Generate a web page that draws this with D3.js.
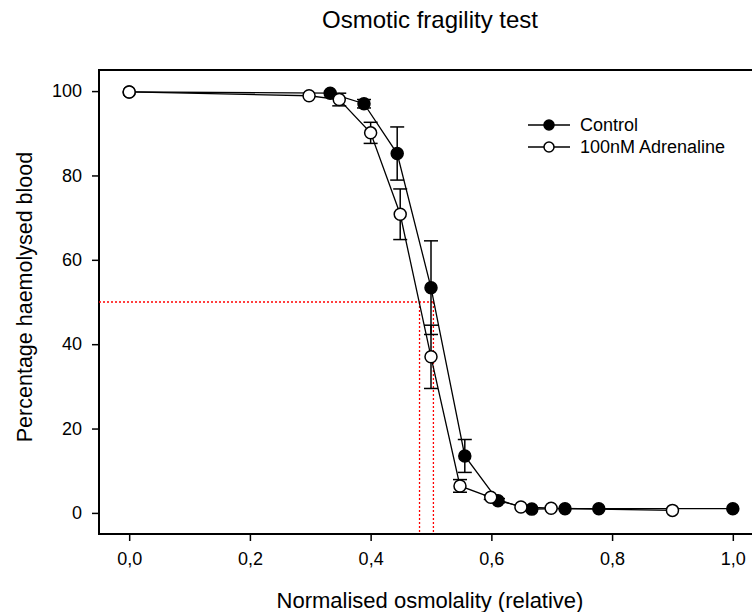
<!DOCTYPE html>
<html>
<head>
<meta charset="utf-8">
<script src="https://cdn.jsdelivr.net/npm/d3@7"></script>
<style>
  html, body { margin: 0; padding: 0; background: #fff; }
  svg { display: block; font-family: "Liberation Sans", Arial, sans-serif; }
</style>
</head>
<body>
<svg id="chart" width="752" height="612"></svg>
<script>
// ---- Data ----
const controlX   = [0, 0.333, 0.389, 0.444, 0.5, 0.556, 0.611, 0.667, 0.722, 0.778, 1.0];
const controlY   = [99.8, 99.5, 97.0, 85.2, 53.4, 13.5, 2.9, 0.9, 1.0, 1.0, 1.0];
const controlErr = [0, 0, 1.0, 6.3, 11.1, 3.9, 0.5, 0, 0, 0, 0];

const adrX   = [0, 0.298, 0.348, 0.400, 0.449, 0.5, 0.548, 0.599, 0.649, 0.699, 0.9];
const adrY   = [99.8, 98.9, 98.0, 90.1, 70.8, 37.0, 6.4, 3.7, 1.4, 1.1, 0.6];
const adrErr = [0, 0, 1.5, 2.5, 6.0, 7.5, 1.5, 0.5, 0, 0, 0];

const refY = 50;
const refX = [0.481, 0.504];

const xTicks = [0, 0.2, 0.4, 0.6, 0.8, 1.0];
const yTicks = [0, 20, 40, 60, 80, 100];

const seriesNames = ["Control", "100nM Adrenaline"];
const titleText = "Osmotic fragility test";
const xLabel = "Normalised osmolality (relative)";
const yLabel = "Percentage haemolysed blood";

(function () {
// ---- Layout ----
const svg = d3.select("#chart");
const pL = 99, pT = 70, pB = 534, pR = 763;

const x = d3.scaleLinear().domain([-0.05, 1.05]).range([pL, pR]);
const y = d3.scaleLinear().domain([-5, 105]).range([pB, pT]);

const fmt = v => d3.format(".1f")(v).replace(".", ",");

// Frame
svg.append("rect")
  .attr("x", pL).attr("y", pT)
  .attr("width", pR - pL).attr("height", pB - pT)
  .attr("fill", "none").attr("stroke", "#000").attr("stroke-width", 2);

// Axes
const xAxis = svg.append("g")
  .attr("transform", `translate(0,${pB})`)
  .call(d3.axisBottom(x).tickValues(xTicks).tickFormat(fmt).tickSize(7).tickPadding(11));
const yAxis = svg.append("g")
  .attr("transform", `translate(${pL},0)`)
  .call(d3.axisLeft(y).tickValues(yTicks).tickSize(7).tickPadding(10));

[xAxis, yAxis].forEach(g => {
  g.select(".domain").remove();
  g.selectAll(".tick line").attr("stroke", "#000").attr("stroke-width", 1.5);
  g.selectAll(".tick text").attr("fill", "#000").style("font-size", "18px")
    .style("font-family", "'Liberation Sans', Arial, sans-serif");
});

// Red dotted reference lines
const red = svg.append("g").attr("stroke", "#ff0000").attr("stroke-width", 1.3)
  .attr("stroke-dasharray", "2,2").attr("fill", "none");
red.append("line")
  .attr("x1", pL).attr("x2", x(d3.max(refX)))
  .attr("y1", y(refY)).attr("y2", y(refY));
refX.forEach(v => {
  red.append("line")
    .attr("x1", x(v)).attr("x2", x(v))
    .attr("y1", y(refY)).attr("y2", pB);
});

// Series
const line = d3.line().x(d => x(d.x)).y(d => y(d.y));
function drawSeries(xs, ys, es, fill) {
  const data = xs.map((v, i) => ({ x: v, y: ys[i], e: es[i] }));
  const g = svg.append("g");
  g.append("path").datum(data).attr("d", line)
    .attr("fill", "none").attr("stroke", "#000").attr("stroke-width", 1.3);
  const eb = g.append("g").attr("stroke", "#000").attr("stroke-width", 1.5);
  data.filter(d => d.e > 0).forEach(d => {
    eb.append("line").attr("x1", x(d.x)).attr("x2", x(d.x))
      .attr("y1", y(d.y - d.e)).attr("y2", y(d.y + d.e));
    [d.y - d.e, d.y + d.e].forEach(v => {
      eb.append("line").attr("x1", x(d.x) - 7).attr("x2", x(d.x) + 7)
        .attr("y1", y(v)).attr("y2", y(v));
    });
  });
  g.selectAll("circle").data(data).join("circle")
    .attr("cx", d => x(d.x)).attr("cy", d => y(d.y)).attr("r", 6)
    .attr("fill", fill).attr("stroke", "#000").attr("stroke-width", 1.5);
}
drawSeries(controlX, controlY, controlErr, "#000");
drawSeries(adrX, adrY, adrErr, "#fff");

// Legend
const legend = svg.append("g");
const fills = ["#000", "#fff"];
seriesNames.forEach((name, i) => {
  const ly = 125 + i * 22;
  legend.append("line").attr("x1", 528).attr("x2", 570).attr("y1", ly).attr("y2", ly)
    .attr("stroke", "#000").attr("stroke-width", 1.3);
  legend.append("circle").attr("cx", 549).attr("cy", ly).attr("r", 5)
    .attr("fill", fills[i]).attr("stroke", "#000").attr("stroke-width", 1.5);
  legend.append("text").attr("x", 580).attr("y", ly + 6)
    .style("font-size", "18px").attr("fill", "#000").text(name);
});

// Titles
svg.append("text").attr("x", 430).attr("y", 28).attr("text-anchor", "middle")
  .style("font-size", "24px").text(titleText);
svg.append("text").attr("x", 430).attr("y", 608).attr("text-anchor", "middle")
  .style("font-size", "22px").text(xLabel);
svg.append("text").attr("transform", "translate(32,297) rotate(-90)")
  .attr("text-anchor", "middle").style("font-size", "21.5px").text(yLabel);
})();
</script>
</body>
</html>
